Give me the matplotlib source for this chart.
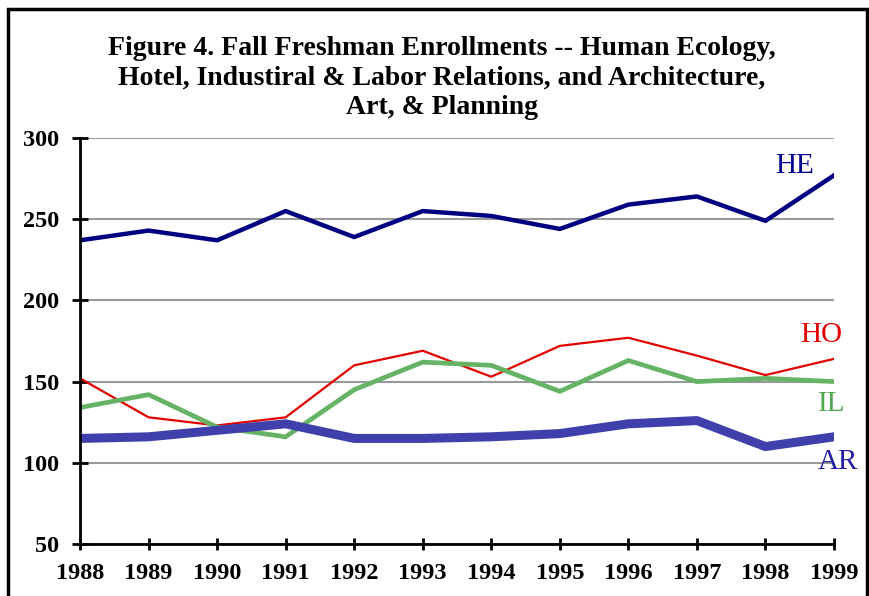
import matplotlib.pyplot as plt
from matplotlib.patches import Rectangle

# Data
years = list(range(1988, 2000))
he = [237, 243, 237, 255, 239, 255, 252, 244, 259, 264, 249, 277]
ho = [152, 128, 123, 128, 160, 169, 153, 172, 177, 166, 154, 164]
il = [134, 142, 122, 116, 145, 162, 160, 144, 163, 150, 152, 150]
ar = [115, 116, 120, 124, 115, 115, 116, 118, 124, 126, 110, 116]

title = ("Figure 4. Fall Freshman Enrollments -- Human Ecology,\n"
         "Hotel, Industiral & Labor Relations, and Architecture,\n"
         "Art, & Planning")

serif = ["Liberation Serif", "DejaVu Serif"]

fig = plt.figure(figsize=(8.7, 5.96), dpi=100)
ax = fig.add_axes([80 / 870, 1 - 544 / 596, (834 - 80) / 870, (544 - 138) / 596])

# frame round the whole figure
fig.patches.append(Rectangle((8 / 870, -0.02), 859 / 870, 1 - 9 / 596 + 0.02,
                             transform=fig.transFigure, fill=False,
                             edgecolor="black", linewidth=2.5))

ax.plot(years, he, color="#000080", linewidth=3.2)
ax.plot(years, ho, color="#e00000", linewidth=1.6)
ax.plot(years, il, color="#66b366", linewidth=3.4)
ax.plot(years, ar, color="#4040ac", linewidth=6.5)

lbl = dict(fontsize=21, family=serif, ha="center", va="center")
ax.text(1998.43, 282.8, "HE", color="#000090", **lbl)
ax.text(1998.81, 178.7, "HO", color="#e00000", **lbl)
ax.text(1998.96, 135.9, "IL", color="#4fa84f", **lbl)
ax.text(1999.06, 100.2, "AR", color="#2020a0", **lbl)

ax.set_xlim(1988, 1999)
ax.set_ylim(50, 300)
ax.set_xticks(years)
ax.set_yticks(range(50, 301, 50))
ax.yaxis.grid(True, color="#999999", linewidth=1.5)
ax.set_axisbelow(True)
for s in ["top", "right"]:
    ax.spines[s].set_visible(False)
for s in ["left", "bottom"]:
    ax.spines[s].set_linewidth(2)
ax.tick_params(axis="y", direction="inout", length=12, width=2, pad=9)
ax.tick_params(axis="x", direction="inout", length=8, width=2, pad=10)
for t in ax.get_xticklabels() + ax.get_yticklabels():
    t.set_fontfamily(serif)
    t.set_fontweight("bold")
    t.set_fontsize(17.5)

fig.text(442 / 870, 1 - 78 / 596, title, ha="center", va="center",
         fontsize=20, fontweight="bold", family=serif, linespacing=1.22)

fig.savefig("out.png", dpi=100)
